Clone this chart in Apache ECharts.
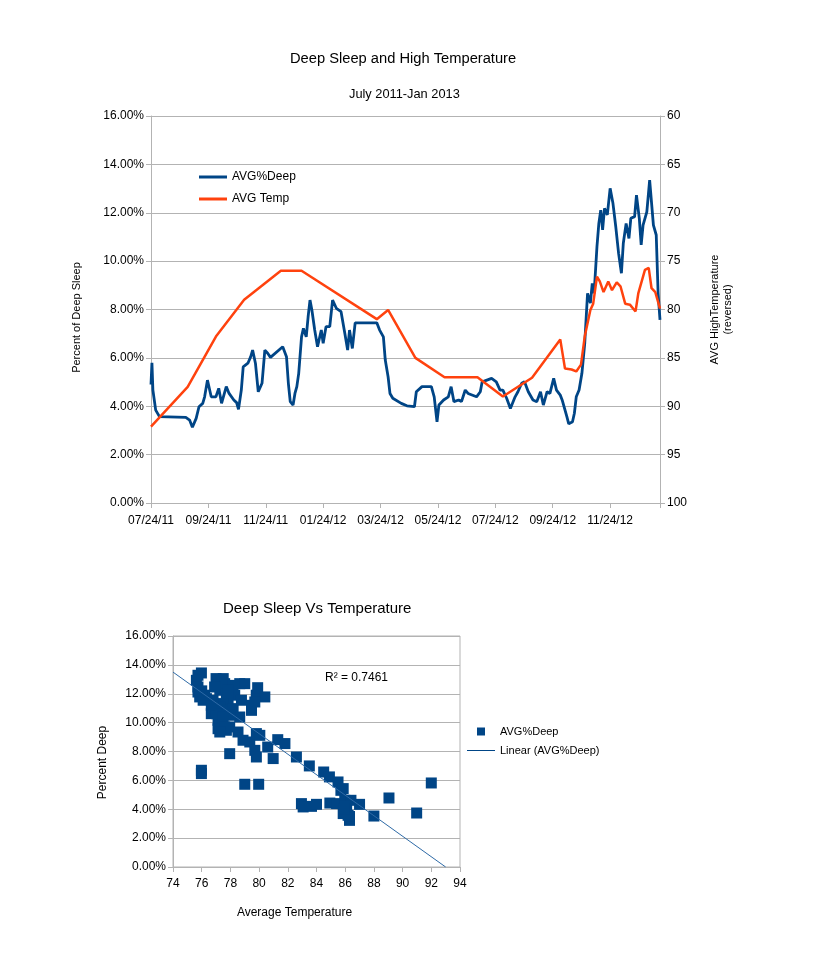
<!DOCTYPE html>
<html><head><meta charset="utf-8">
<script src="https://cdn.jsdelivr.net/npm/echarts@6/dist/echarts.min.js"></script>
<style>html,body{margin:0;padding:0;background:#fff}#c{width:816px;height:960px}</style>
</head><body><div id="c"></div>
<script>
// ---------- Top chart data ----------
// x values are days since 07/24/11; tick labels every 61 days
const dateLabels = ['07/24/11','09/24/11','11/24/11','01/24/12','03/24/12','05/24/12','07/24/12','09/24/12','11/24/12'];
const labelStepDays = 61;
const lastDay = 541;

const deepDays = [0,1,2,5,9,37,41,44,48,51,55,57,60,64,69,72,75,80,83,88,91,93,96,98,103,106,108,111,114,116,118,121,124,127,140,144,146,148,151,153,155,157,160,162,165,167,169,171,174,177,181,183,186,190,193,197,202,206,209,211,214,217,240,243,247,249,252,254,257,266,272,280,282,288,298,301,304,306,311,316,319,322,327,330,334,337,346,350,352,357,362,367,371,374,378,382,387,390,394,397,401,406,410,414,417,421,424,428,431,435,437,439,442,444,448,450,452,455,458,461,464,467,469,471,474,476,478,480,482,485,488,491,494,497,500,502,505,508,510,514,516,519,521,523,527,530,534,537,539,541];
const deepPct = [4.90,5.80,4.67,3.84,3.57,3.54,3.43,3.13,3.50,3.98,4.12,4.39,5.08,4.39,4.39,4.74,4.12,4.81,4.53,4.26,4.15,3.87,4.67,5.63,5.78,6.05,6.32,5.78,4.60,4.53,4.95,6.32,6.19,6.02,6.46,6.05,4.95,4.19,4.05,4.53,4.81,5.36,6.87,7.22,6.87,7.70,8.39,7.98,7.15,6.46,7.15,6.60,7.29,7.29,8.39,8.05,7.91,7.02,6.32,7.15,6.39,7.45,7.45,7.15,6.87,5.91,5.22,4.53,4.33,4.12,4.02,3.98,4.60,4.81,4.81,4.39,3.36,4.05,4.26,4.39,4.81,4.19,4.26,4.19,4.67,4.53,4.39,4.60,5.01,5.08,5.15,5.01,4.67,4.67,4.33,3.91,4.39,4.60,4.95,5.01,4.60,4.26,4.19,4.60,4.05,4.60,4.53,5.15,4.67,4.46,4.26,4.33,3.57,3.27,3.36,3.71,4.39,4.67,5.36,6.60,8.67,8.26,9.08,8.67,10.60,11.56,12.11,11.29,12.18,11.91,13.01,12.39,11.42,10.32,9.50,10.74,11.56,10.94,11.77,11.84,12.73,11.77,10.67,11.49,12.04,13.35,11.49,11.08,8.67,7.57];

const tempDays = [0,39,69,99,138,160,240,252,281,312,347,374,405,435,438,440,447,452,457,461,467,470,474,477,481,486,490,495,499,504,509,515,518,525,529,532,536,541];
const tempVals = [92.1,88.0,82.8,79.0,76.0,76.0,81.0,80.05,85.0,87.0,87.0,89.0,87.05,83.1,84.9,86.1,86.2,86.4,85.7,82.8,80.05,79.4,76.6,77.1,78.2,77.1,78.0,77.2,77.6,79.4,79.5,80.2,78.3,75.9,75.7,77.8,78.2,79.9];

// ---------- Bottom chart data ----------
const scatterTemp = [75.74,75.98,75.63,75.74,75.74,75.86,76.33,76.10,75.98,75.98,77.00,77.50,77.10,76.67,77.14,77.14,77.72,77.95,78.53,78.65,77.95,78.88,79.35,79.00,79.97,79.81,80.05,79.70,79.81,80.60,80.98,81.30,81.80,82.60,83.50,84.50,84.90,85.50,85.70,85.86,82.95,83.07,83.65,84.00,84.93,85.40,85.97,86.10,86.20,86.30,85.86,86.40,87.00,88.00,89.05,90.98,92.00,77.26,77.60,77.72,78.19,78.65,79.00,78.30,77.84,77.50,77.26,77.72,77.02,78.19,77.95,77.49,78.77,79.47,79.47,79.80,79.90,80.40,79.70,76.79,76.67,77.84,76.90,77.60,77.26,86.00,86.30,85.90,76.00,76.20];
const scatterPct = [13.28,13.44,12.93,12.47,12.12,11.78,11.66,11.55,6.70,6.47,13.05,13.05,12.58,10.62,10.16,9.58,9.47,9.70,9.35,10.39,7.85,8.78,8.66,5.73,5.73,9.24,9.12,8.08,7.62,8.31,7.51,8.82,8.55,7.62,7.00,6.58,6.24,5.89,5.31,5.43,4.39,4.16,4.20,4.34,4.43,4.39,4.62,3.93,3.58,3.23,3.70,4.62,4.34,3.53,4.78,3.74,5.82,12.24,12.70,12.00,12.58,12.70,12.70,11.90,11.55,11.32,11.09,10.85,10.62,10.97,10.51,10.39,11.55,11.20,10.85,11.90,12.42,11.78,11.43,11.55,11.20,12.24,12.47,9.70,9.35,4.20,3.50,4.00,12.20,11.90];
const trendTemp = [74, 93];
const trendPct = [13.5, 0];
const r2Text = 'R² = 0.7461';

// ---------- Styling ----------
const FONT = "'Liberation Sans', Arial, sans-serif";
const GRIDC = '#b3b3b3';
const BLUE = '#004586';
const ORANGE = '#ff420e';
const pctFmt = v => v.toFixed(2) + '%';
const txt = (size) => ({color:'#000', fontSize:size, fontFamily:FONT});

const chart = echarts.init(document.getElementById('c'));
chart.setOption({
  animation: false,
  backgroundColor: '#fff',
  title: [
    {text:'Deep Sleep and High Temperature', left:290, top:51, padding:0, textStyle:{...txt(14.7), fontWeight:'normal'}},
    {text:'July 2011-Jan 2013', left:349, top:88, padding:0, textStyle:{...txt(12.8), fontWeight:'normal'}},
    {text:'Deep Sleep Vs Temperature', left:223, top:601, padding:0, textStyle:{...txt(15), fontWeight:'normal'}}
  ],
  legend: [
    {orient:'vertical', left:199, top:171, padding:0, itemWidth:28, itemHeight:3, itemGap:10,
     itemStyle:{borderWidth:0}, textStyle:txt(12),
     data:[{name:'AVG%Deep', icon:'rect'},{name:'AVG Temp', icon:'rect'}], selectedMode:false},
    {orient:'vertical', left:467, top:726, padding:0, itemWidth:28, itemHeight:8, itemGap:8,
     itemStyle:{borderWidth:0}, textStyle:txt(11),
     data:[{name:'AVG%Deep', icon:'path://M0,0M28,8M10,0h8v8h-8z'},
           {name:'Linear (AVG%Deep)', icon:'path://M0,0M28,8M0,3.5h28v1h-28z'}], selectedMode:false}
  ],
  grid: [
    {left:151, top:116, width:509, height:387, containLabel:false},
    {left:173, top:636, width:287, height:231, containLabel:false, show:true, borderColor:GRIDC, borderWidth:1}
  ],
  xAxis: [
    {gridIndex:0, type:'value', min:0, max:lastDay, interval:labelStepDays,
     axisLine:{show:true, lineStyle:{color:GRIDC}}, axisTick:{show:true, length:5, lineStyle:{color:GRIDC}},
     splitLine:{show:false},
     axisLabel:{...txt(12), margin:12, formatter: v => {
        const i = Math.round(v / labelStepDays);
        return (Math.abs(v - i * labelStepDays) < 1e-6 && dateLabels[i]) ? dateLabels[i] : '';
     }}},
    {gridIndex:1, type:'value', min:74, max:94, interval:2,
     name:'Average Temperature', nameLocation:'middle', nameGap:40,
     nameTextStyle:{...txt(12), padding:[0,44,0,0]},
     axisLine:{show:true, lineStyle:{color:GRIDC}}, axisTick:{show:true, length:5, lineStyle:{color:GRIDC}},
     splitLine:{show:false}, axisLabel:{...txt(12), margin:11}}
  ],
  yAxis: [
    {gridIndex:0, type:'value', min:0, max:16, interval:2,
     name:'Percent of Deep Sleep', nameLocation:'middle', nameRotate:90, nameGap:69,
     nameTextStyle:{...txt(11), padding:[0,16,0,0]},
     axisLine:{show:true, lineStyle:{color:GRIDC}}, axisTick:{show:true, length:5, lineStyle:{color:GRIDC}},
     splitLine:{show:true, lineStyle:{color:GRIDC}}, axisLabel:{...txt(12), margin:7, formatter:pctFmt}},
    {gridIndex:0, type:'value', position:'right', inverse:true, min:60, max:100, interval:5,
     name:'AVG HighTemperature\n(reversed)', nameLocation:'middle', nameRotate:90, nameGap:48,
     nameTextStyle:{...txt(11), lineHeight:13},
     axisLine:{show:true, lineStyle:{color:GRIDC}}, axisTick:{show:true, length:5, lineStyle:{color:GRIDC}},
     splitLine:{show:false}, axisLabel:{...txt(12), margin:7}},
    {gridIndex:1, type:'value', min:0, max:16, interval:2,
     name:'Percent Deep', nameLocation:'middle', nameRotate:90, nameGap:64,
     nameTextStyle:{...txt(12), padding:[0,22,0,0]},
     axisLine:{show:true, lineStyle:{color:GRIDC}}, axisTick:{show:true, length:5, lineStyle:{color:GRIDC}},
     splitLine:{show:true, lineStyle:{color:GRIDC}}, axisLabel:{...txt(12), margin:7, formatter:pctFmt}}
  ],
  graphic: [
    {type:'text', left:325, top:672, style:{text:r2Text, fill:'#000', font:"12px 'Liberation Sans', Arial, sans-serif"}}
  ],
  series: [
    {type:'line', name:'AVG%Deep', xAxisIndex:0, yAxisIndex:0, symbol:'none', showSymbol:false,
     data: deepDays.map((d,i) => [d, deepPct[i]]),
     lineStyle:{color:BLUE, width:2.8}, itemStyle:{color:BLUE}},
    {type:'line', name:'AVG Temp', xAxisIndex:0, yAxisIndex:1, symbol:'none', showSymbol:false,
     data: tempDays.map((d,i) => [d, tempVals[i]]),
     lineStyle:{color:ORANGE, width:2.5}, itemStyle:{color:ORANGE}},
    {type:'scatter', name:'AVG%Deep', xAxisIndex:1, yAxisIndex:2, symbol:'rect', symbolSize:11,
     data: scatterTemp.map((t,i) => [t, scatterPct[i]]),
     itemStyle:{color:BLUE, opacity:1}},
    {type:'line', name:'Linear (AVG%Deep)', xAxisIndex:1, yAxisIndex:2, symbol:'none', showSymbol:false,
     data: trendTemp.map((t,i) => [t, trendPct[i]]),
     lineStyle:{color:'#2e6aa6', width:1}, itemStyle:{color:BLUE}}
  ]
});
</script></body></html>
